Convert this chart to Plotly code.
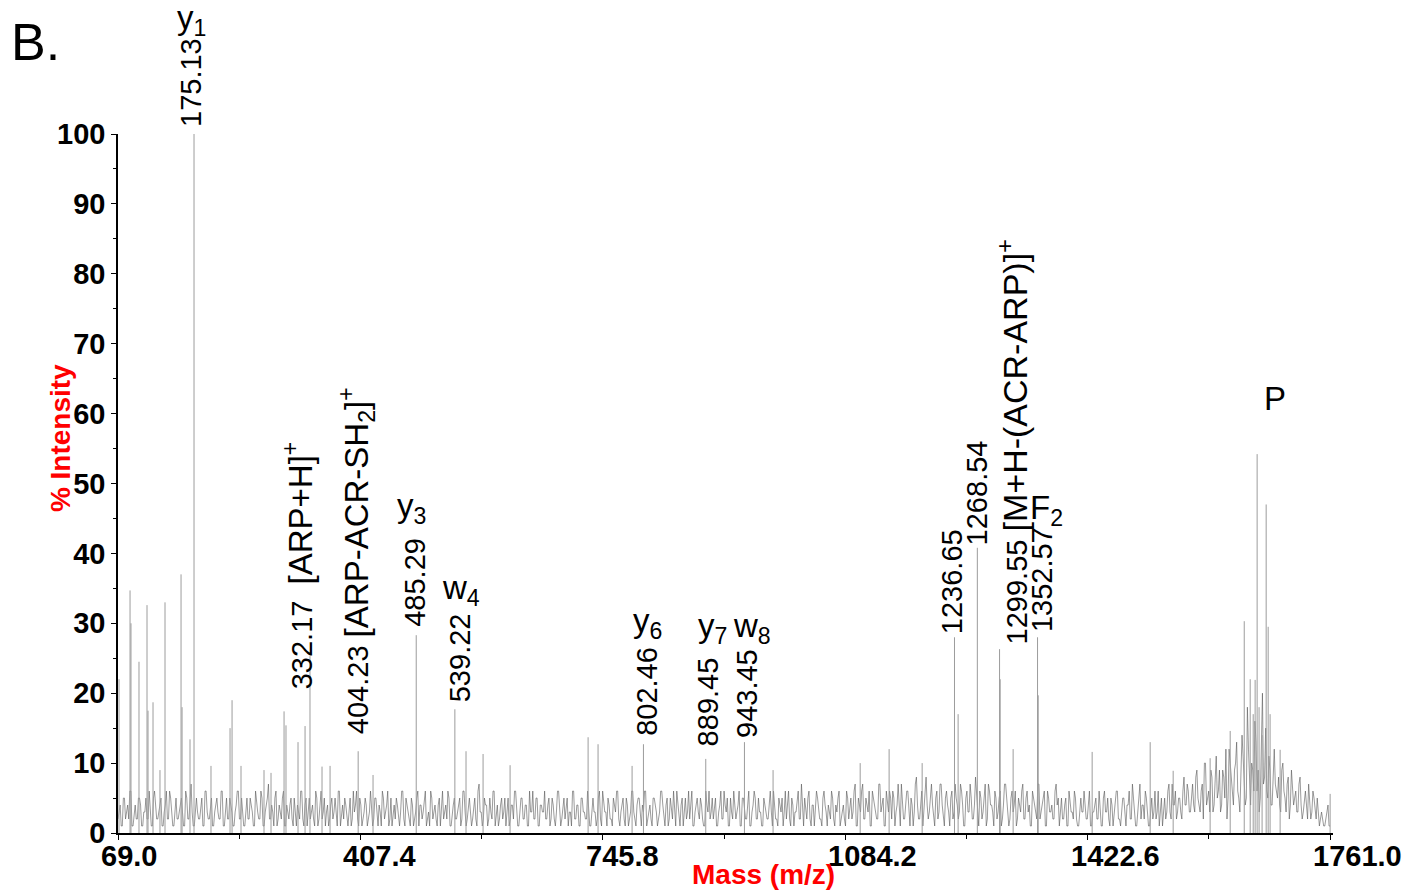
import plotly.graph_objects as go

# ---------------- data ----------------
MZ_START = 69.0
MZ_STEP = 3.0
# baseline noise sampled at MZ_START + i*MZ_STEP
noise_intensity = [
    2,4,1,5,3,2,6,1,4,2,5,1,3,5,2,4,1,6,2,3,
    5,1,4,2,6,3,1,5,2,4,3,1,5,2,7,1,4,3,2,5,
    1,6,2,4,1,3,5,2,6,1,4,2,5,3,1,4,6,2,3,1,
    5,2,4,1,6,3,2,5,1,4,7,2,3,5,1,4,2,6,1,3,
    4,2,5,1,3,6,2,4,1,5,3,2,6,1,4,2,5,3,1,4,
    2,5,1,6,3,2,4,1,5,2,3,6,1,4,2,5,1,3,4,2,
    5,1,3,6,2,4,1,5,3,2,4,1,6,2,5,3,1,4,2,5,
    1,4,3,6,2,1,5,3,2,4,1,6,3,2,5,1,4,2,3,5,
    2,6,1,4,3,2,5,1,7,3,2,4,1,5,2,6,3,1,4,2,
    5,3,1,4,2,6,1,3,5,2,4,1,3,6,2,5,1,4,3,2,
    4,1,5,2,3,6,1,4,2,5,3,1,6,2,4,1,5,3,2,4,
    1,5,3,2,6,1,4,3,5,2,1,4,6,2,3,5,1,4,2,6,
    3,1,5,2,4,6,1,3,2,5,4,1,3,6,2,4,1,5,2,3,
    6,2,4,1,5,3,2,6,1,4,3,5,2,1,4,6,3,2,5,1,
    4,2,6,3,1,5,2,4,3,6,1,5,2,4,1,3,6,2,5,3,
    1,4,2,5,3,6,2,1,4,5,3,2,6,1,4,3,5,2,7,1,
    3,5,2,4,1,6,3,2,5,4,1,3,6,2,4,5,1,3,2,6,
    2,5,3,7,1,4,6,2,5,3,1,6,4,2,7,3,5,1,4,6,
    2,5,3,7,1,4,2,6,3,5,1,7,4,2,6,3,8,2,5,4,
    1,6,3,7,2,5,4,1,6,3,5,2,7,4,1,6,3,5,2,8,
    3,6,2,5,1,7,4,3,6,2,5,1,4,7,3,2,6,4,1,5,
    3,7,2,6,4,1,5,3,7,2,4,6,1,5,3,2,6,4,1,5,
    2,5,1,4,3,6,2,1,5,3,4,2,6,1,3,5,2,4,1,6,
    3,2,5,1,4,6,2,3,5,1,4,2,7,3,1,5,2,4,6,3,
    1,5,3,2,6,4,1,5,3,7,2,4,6,3,5,2,8,4,6,3,
    7,3,9,4,6,2,10,5,3,8,4,11,6,3,9,5,2,12,7,4,
    10,6,3,14,8,5,12,4,9,16,6,3,11,7,15,5,9,4,12,6,
    8,3,10,5,7,2,9,4,6,3,8,2,5,4,7,2,6,3,5,1,
    3,1,2,4,1,
]
# baseline noise sampled half a step later (MZ_START + MZ_STEP/2 + i*MZ_STEP)
noise_intensity_b = [
    3,1,5,2,4,6,1,3,2,5,4,1,3,2,6,1,5,3,2,4,
    1,3,6,2,5,1,4,2,3,5,1,6,2,4,3,1,5,2,4,1,
    6,3,2,5,1,4,3,2,6,1,5,2,4,1,3,6,2,5,1,4,
    2,5,3,1,4,2,6,1,3,5,2,4,1,6,2,3,5,1,4,2,
    5,1,3,4,2,6,1,5,3,2,4,1,5,2,6,3,1,4,2,5,
    3,2,6,1,4,5,2,3,1,6,4,2,5,1,3,4,2,6,1,5,
    2,4,1,5,3,6,2,1,4,5,2,3,6,1,4,2,5,1,3,6,
    4,2,5,1,3,6,2,4,1,5,3,2,4,6,1,3,5,2,4,1,
    6,3,2,5,1,4,2,6,3,1,5,4,2,3,6,1,4,2,5,3,
    1,5,2,4,6,3,1,5,2,4,1,6,3,2,5,1,4,3,6,2,
    5,2,4,1,6,3,2,5,4,1,3,6,2,4,1,5,3,2,6,1,
    4,3,1,5,2,6,3,1,4,2,5,3,6,1,4,2,5,1,3,6,
    2,4,5,1,3,6,2,4,1,5,3,2,6,4,1,5,2,3,6,1,
    4,1,5,3,2,6,4,1,3,5,2,4,1,6,3,2,5,4,1,3,
    6,2,4,5,1,3,6,2,4,1,5,3,2,6,1,4,5,2,3,1,
    5,3,2,6,1,4,2,5,3,1,6,4,2,5,1,3,6,2,4,5,
    2,6,1,4,3,5,2,1,6,3,4,2,5,1,3,6,2,4,1,5,
    4,2,6,1,5,3,7,2,4,6,1,5,3,2,7,4,1,6,3,5,
    6,1,4,3,7,2,5,6,1,4,3,8,2,5,1,6,4,3,7,2,
    5,2,7,4,1,6,3,5,2,7,4,3,6,1,5,3,7,2,4,6,
    1,5,3,7,2,6,4,1,5,3,6,2,7,4,1,5,3,6,2,4,
    6,2,5,3,1,6,4,2,7,3,5,1,6,3,4,2,7,5,3,2,
    4,1,6,3,2,5,1,4,3,6,2,5,1,3,4,2,6,1,5,3,
    5,1,4,3,6,2,1,5,3,4,6,2,5,1,3,7,4,2,5,1,
    4,2,6,3,1,5,4,2,6,3,7,4,2,5,3,6,4,7,3,5,
    4,8,5,3,7,10,4,6,9,3,7,5,9,4,8,12,5,10,6,9,
    13,5,8,11,4,18,7,10,6,13,9,5,20,8,6,11,4,10,7,5,
    4,9,6,3,8,4,6,5,3,7,4,3,6,2,4,3,5,2,3,2,
    2,1,3,1,
]

peak_mz = [70.4, 85.8, 87.1, 98.3, 109.5, 110.9, 117.9, 127.6, 134.6, 157.0,
           158.4, 169.5, 175.13, 198.8, 225.4, 228.2, 240.7, 272.8, 282.6, 300.8,
           303.5, 320.3, 330.1, 337.0, 353.8, 365.0, 404.23, 425.0, 485.29, 539.22,
           554.8, 578.6, 616.3, 725.2, 739.1, 786.6, 802.46, 889.45, 943.45, 983.4,
           1105.0, 1145.4, 1191.5, 1236.65, 1241.7, 1268.54, 1299.55, 1300.4, 1318.5, 1352.57,
           1353.5, 1428.8, 1509.8, 1541.9, 1593.5, 1621.5, 1641.1, 1649.4, 1653.6, 1656.3,
           1659.1, 1661.8, 1666.0, 1671.7, 1674.5, 1677.2, 1691.2, 1761.0]
peak_int = [22.0, 34.7, 30.0, 24.5, 32.6, 17.5, 18.7, 9.0, 33.0, 37.0,
            18.0, 13.4, 100.0, 9.6, 15.0, 19.0, 9.6, 9.0, 8.6, 17.4,
            15.4, 13.0, 15.3, 25.3, 9.5, 9.6, 11.7, 8.3, 28.3, 17.7,
            11.7, 11.3, 9.7, 13.7, 12.7, 9.6, 12.7, 10.6, 13.0, 9.0,
            10.0, 12.0, 10.0, 28.0, 17.0, 40.8, 26.3, 22.0, 12.0, 28.0,
            19.7, 11.6, 13.0, 8.9, 10.7, 14.6, 30.3, 22.0, 17.0, 21.9,
            54.2, 18.0, 14.0, 47.0, 29.5, 17.0, 11.9, 5.6]

x_tick_vals = [69.0, 407.4, 745.8, 1084.2, 1422.6, 1761.0]
x_tick_text = ["69.0", "407.4", "745.8", "1084.2", "1422.6", "1761.0"]
x_minor_vals = [238.2, 576.6, 915.0, 1253.4, 1591.8]
y_tick_vals = [0, 10, 20, 30, 40, 50, 60, 70, 80, 90, 100]

# peak annotations: text, m/z position, intensity-level position, angle, font size
label_text = ["y<sub>1</sub>", "175.13", "332.17  <span style='font-size:33px'>[ARP+H]<sup>+</sup></span>",
              "404.23 <span style='font-size:33px'>[ARP-ACR-SH<sub>2</sub>]<sup>+</sup></span>",
              "y<sub>3</sub>", "485.29",
              "w<sub>4</sub>", "539.22", "y<sub>6</sub>", "802.46", "y<sub>7</sub>",
              "w<sub>8</sub>", "889.45", "943.45", "1236.65", "1268.54",
              "1299.55 <span style='font-size:34px'>[M+H-(ACR-ARP)]<sup>+</sup></span>",
              "F<sub>2</sub>", "1352.57", "P"]
label_mz = [170.9, 170.9, 320.3, 401.3, 478.0, 483.6, 547.8, 546.4, 807.5, 807.5,
            898.2, 954.1, 892.7, 947.1, 1233.3, 1268.2, 1317.1, 1364.5, 1359.0, 1684.2]
label_y = [116.3, 107.3, 38.3, 38.9, 46.5, 35.8, 34.8, 25.0, 30.0, 20.2,
           29.3, 29.3, 18.7, 19.9, 35.9, 48.6, 55.9, 46.2, 36.2, 62.2]
label_rot = [0, -90, -90, -90, 0, -90, 0, -90, 0, -90,
             0, 0, -90, -90, -90, -90, -90, 0, -90, 0]
label_size = [33, 29, 29, 29, 33, 29, 33, 29, 33, 29,
              33, 33, 29, 29, 29, 29, 29, 33, 29, 33]

# ---------------- figure ----------------
FONT = "Liberation Sans, Arial, sans-serif"
noise_x, noise_y = [], []
for i in range(len(noise_intensity)):
    noise_x.append(MZ_START + MZ_STEP * i)
    noise_y.append(noise_intensity[i])
    if i < len(noise_intensity_b):
        noise_x.append(MZ_START + MZ_STEP * i + MZ_STEP / 2)
        noise_y.append(noise_intensity_b[i])

stick_x, stick_y = [], []
for m, h in zip(peak_mz, peak_int):
    stick_x += [m, m, None]
    stick_y += [0, h, None]

fig = go.Figure()
fig.add_trace(go.Scatter(x=noise_x, y=noise_y, mode="lines",
                         line=dict(color="#585858", width=0.6), hoverinfo="skip"))
fig.add_trace(go.Scatter(x=stick_x, y=stick_y, mode="lines",
                         line=dict(color="#9c9c9c", width=1), hoverinfo="skip"))

ann = []
for t, m, yv, r, s in zip(label_text, label_mz, label_y, label_rot, label_size):
    ann.append(dict(x=m, y=yv / 100.0, xref="x", yref="paper", text=t, textangle=r,
                    showarrow=False, xanchor="center", yanchor="middle",
                    font=dict(family=FONT, size=s, color="black")))
for v, t in zip(x_tick_vals, x_tick_text):
    ann.append(dict(x=v, y=-0.033, xref="x", yref="paper", text=t, showarrow=False,
                    xanchor="left", yanchor="middle", xshift=-19,
                    font=dict(family=FONT, size=29, color="black", weight="bold")))
ann.append(dict(x=0.531, y=-0.059, xref="paper", yref="paper", text="Mass (m/z)",
                showarrow=False, xanchor="center", yanchor="middle",
                font=dict(family=FONT, size=28, color="#ff0000", weight="bold")))
ann.append(dict(x=-0.0477, y=0.565, xref="paper", yref="paper", text="% Intensity",
                textangle=-90, showarrow=False, xanchor="center", yanchor="middle",
                font=dict(family=FONT, size=28, color="#ff0000", weight="bold")))
ann.append(dict(x=-0.0683, y=1.1316, xref="paper", yref="paper", text="B.",
                showarrow=False, xanchor="center", yanchor="middle",
                font=dict(family=FONT, size=52, color="black")))

fig.update_layout(
    width=1403, height=892,
    margin=dict(l=118, r=70, t=134, b=59),
    paper_bgcolor="white", plot_bgcolor="white",
    showlegend=False,
    annotations=ann,
    xaxis=dict(range=[69.0, 1765.0], showgrid=False, zeroline=False,
               showline=True, linecolor="black", linewidth=1.5,
               tickmode="array", tickvals=x_tick_vals, ticktext=[""] * len(x_tick_vals),
               ticks="outside", ticklen=5, tickwidth=1.2, tickcolor="black",
               minor=dict(tickvals=x_minor_vals, ticks="outside", ticklen=4,
                          tickwidth=1.2, tickcolor="black")),
    yaxis=dict(range=[0, 100], showgrid=False, zeroline=False,
               showline=True, linecolor="black", linewidth=1.5,
               tickmode="array", tickvals=y_tick_vals,
               ticks="outside", ticklen=5, tickwidth=1.2, tickcolor="black",
               tickfont=dict(family=FONT, size=29, color="black", weight="bold"),
               minor=dict(dtick=5, tick0=0, ticks="outside", ticklen=3,
                          tickwidth=1, tickcolor="black")),
)

fig.write_html("out.html", config={"displayModeBar": False},
               post_script="document.body.style.margin='0px';"
               "document.body.style.overflow='hidden';")
